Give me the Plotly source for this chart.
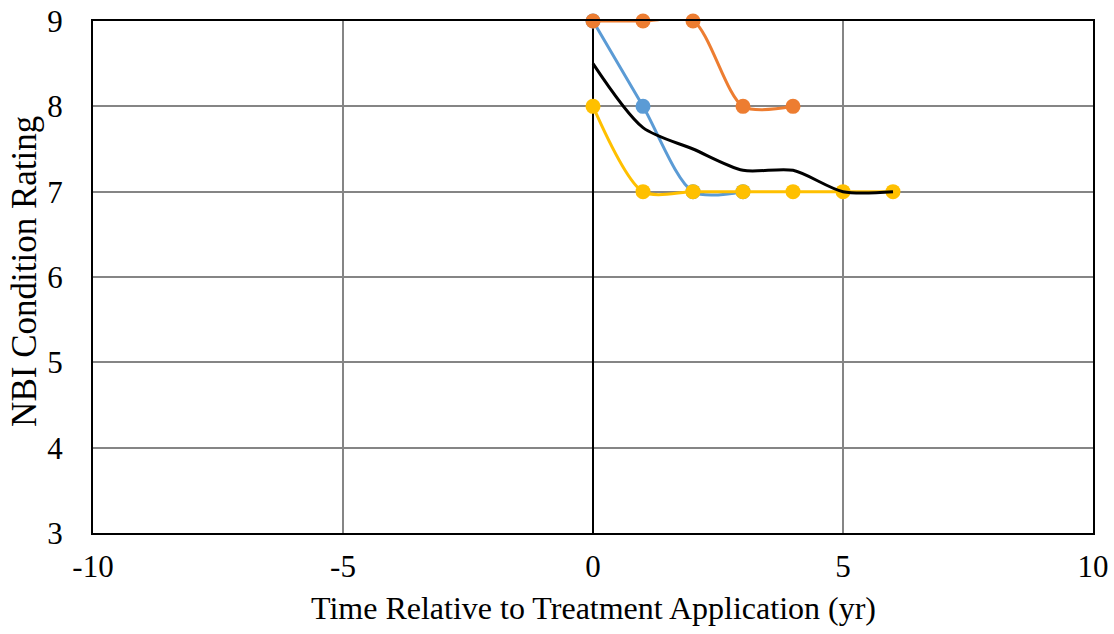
import plotly.graph_objects as go

# ---- data ----
blue_x = [0, 1, 2, 3]
blue_y = [9, 8, 7, 7]
orange_x = [0, 1, 2, 3, 4]
orange_y = [9, 9, 9, 8, 8]
yellow_x = [0, 1, 2, 3, 4, 5, 6]
yellow_y = [8, 7, 7, 7, 7, 7, 7]
avg_x = [0, 1, 2, 3, 4, 5, 6]
avg_y = [8.5, 7.75, 7.5, 7.25, 7.25, 7.0, 7.0]

x_ticks = [-10, -5, 0, 5, 10]
x_labels = ["-10", "-5", "0", "5", "10"]
y_ticks = [3, 4, 5, 6, 7, 8, 9]

fig = go.Figure()


def add_series(x, y, color, markers=True):
    fig.add_trace(go.Scatter(
        x=x, y=y,
        mode="lines+markers" if markers else "lines",
        line=dict(color=color, width=3, shape="spline", smoothing=0.8),
        marker=dict(size=15, color=color),
        showlegend=False,
        cliponaxis=False,
    ))


add_series(blue_x, blue_y, "#5b9bd5")
add_series(orange_x, orange_y, "#ed7d31")
add_series(yellow_x, yellow_y, "#ffc000")
add_series(avg_x, avg_y, "#000000", markers=False)

serif = "Liberation Serif, Times New Roman, serif"
tick_font = dict(family=serif, size=31, color="#000000")

fig.update_xaxes(
    range=[-10, 10], tickvals=x_ticks, ticktext=x_labels, ticks="",
    showgrid=True, gridcolor="#858585", gridwidth=2,
    zeroline=True, zerolinecolor="#000000", zerolinewidth=2,
    showline=True, linecolor="#000000", linewidth=2, mirror=True,
    tickfont=tick_font, ticklabelstandoff=5, automargin=False,
    ticklabeloverflow="allow",
)
fig.update_yaxes(
    range=[3, 9], tickvals=y_ticks, ticks="",
    showgrid=True, gridcolor="#858585", gridwidth=2,
    zeroline=False,
    showline=True, linecolor="#000000", linewidth=2, mirror=True,
    tickfont=tick_font, ticklabelstandoff=22, automargin=False,
    ticklabeloverflow="allow",
)

# axis titles
fig.add_annotation(
    text="Time Relative to Treatment Application (yr)",
    xref="paper", yref="paper", x=0.5, y=-0.146, yanchor="middle",
    showarrow=False, font=dict(family=serif, size=32, color="#000000"),
)
fig.add_annotation(
    text="NBI Condition Rating",
    xref="paper", yref="paper", x=-0.068, y=0.51, xanchor="center", yanchor="middle",
    textangle=-90, showarrow=False, font=dict(family=serif, size=35, color="#000000"),
)

fig.update_layout(
    width=1114, height=634,
    margin=dict(l=93, r=21, t=21, b=101),
    plot_bgcolor="white", paper_bgcolor="white",
)

# drop the default page margin so the figure sits at the window corner
fig.write_html(
    "out.html",
    config={"displayModeBar": False},
    post_script=["document.body.style.margin='0';"],
)
